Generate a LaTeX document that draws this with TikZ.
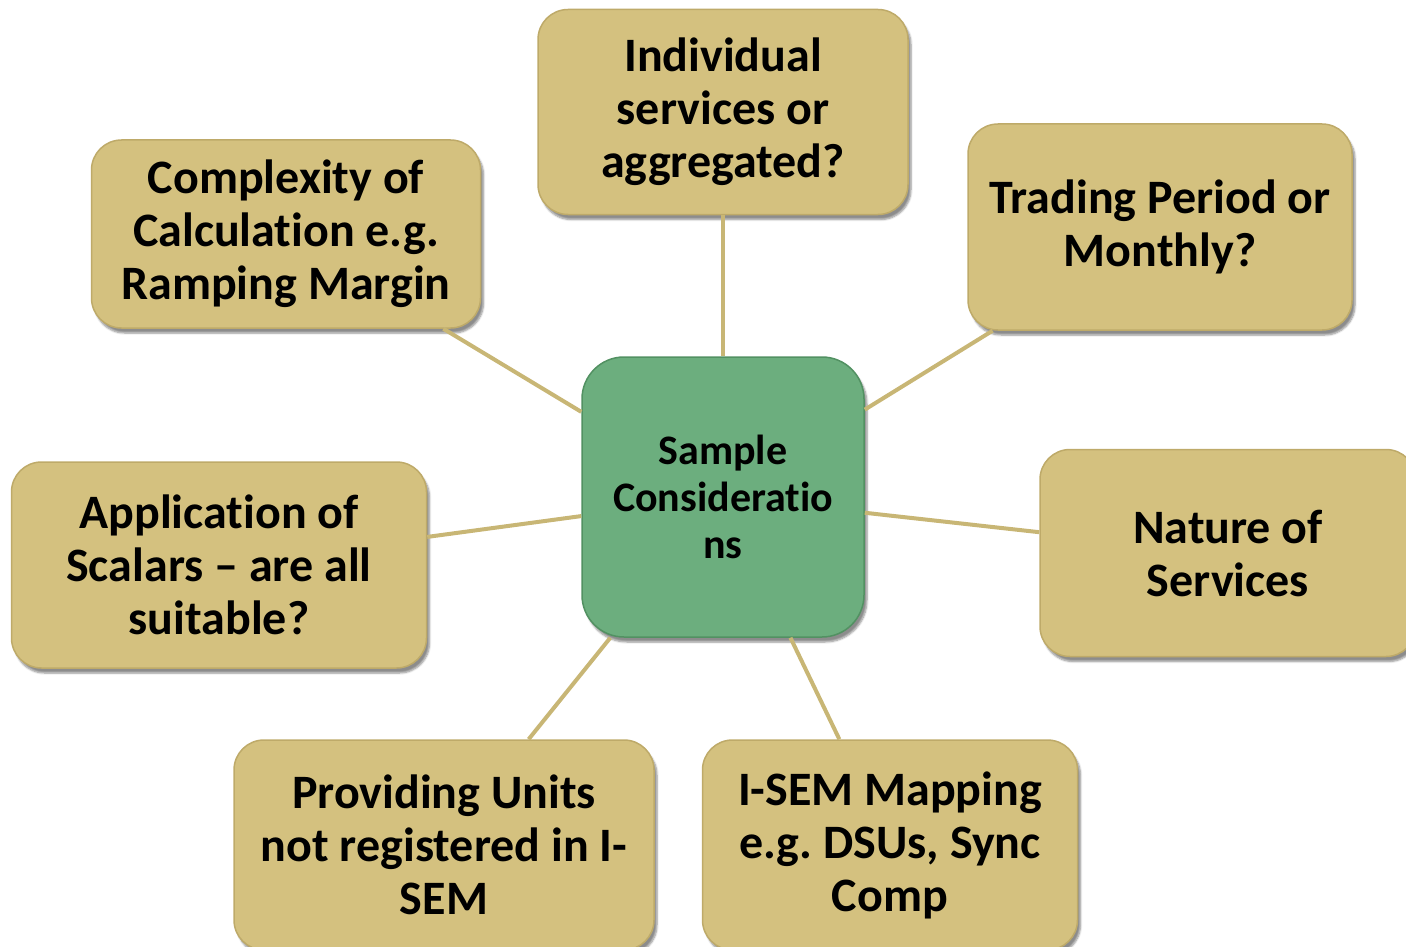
\documentclass[tikz,border=0pt]{standalone}
\usepackage{fontspec}
\setmainfont{Carlito}[Ligatures={NoCommon,TeX}]
\frenchspacing
\usetikzlibrary{shadows.blur}
\definecolor{tanfill}{RGB}{212,193,127}
\definecolor{tanedge}{RGB}{190,170,105}
\definecolor{tanline}{RGB}{200,182,117}
\definecolor{greenfill}{RGB}{108,174,126}
\definecolor{greenedge}{RGB}{82,145,98}
\tikzset{
  topic/.style={draw=tanedge, line width=1.5pt, fill=tanfill, rounded corners=30pt,
    align=center, font=\bfseries\fontsize{48}{53}\selectfont, inner sep=0pt,
    blur shadow={shadow xshift=3pt, shadow yshift=-5pt, shadow blur steps=6, shadow opacity=45}},
  hub/.style={draw=greenedge, line width=1.5pt, fill=greenfill, rounded corners=42pt,
    align=center, font=\bfseries\fontsize{42}{47}\selectfont, inner sep=0pt,
    minimum width=282pt, minimum height=280pt,
    blur shadow={shadow xshift=3pt, shadow yshift=-5pt, shadow blur steps=6, shadow opacity=45}},
  link/.style={draw=tanline, line width=4pt}
}
\begin{document}
\begin{tikzpicture}[x=1pt,y=-1pt]
\path[use as bounding box, clip] (0,0) rectangle (1406,947);

\node[hub] (c) at (723,497) {Sample\\Consideratio\\ns};

\node[topic, minimum width=370pt, minimum height=205pt] (ind) at (723,112)
  {Individual\\services or\\aggregated?};
\node[topic, minimum width=389pt, minimum height=188pt] (cmp) at (286,234)
  {Complexity of\\Calculation e.g.\\Ramping Margin};
\node[topic, minimum width=384pt, minimum height=206pt] (trd) at (1160,227)
  {Trading Period or\\Monthly?};
\node[topic, minimum width=415pt, minimum height=206pt] (app) at (219,565)
  {Application of\\Scalars -- are all\\suitable?};
\node[topic, minimum width=376pt, minimum height=207pt] (nat) at (1228,553)
  {Nature of\\Services};
\node[topic, minimum width=420pt, minimum height=210pt] (pro) at (444,845)
  {Providing Units\\not registered in I-\\SEM};
\node[topic, minimum width=375pt, minimum height=210pt] (ise) at (890,845)
  {I-SEM Mapping\\e.g. DSUs, Sync\\Comp};

\foreach \t in {ind,cmp,trd,app,nat,pro,ise}
  \draw[link] (c) -- (\t);
\end{tikzpicture}
\end{document}
